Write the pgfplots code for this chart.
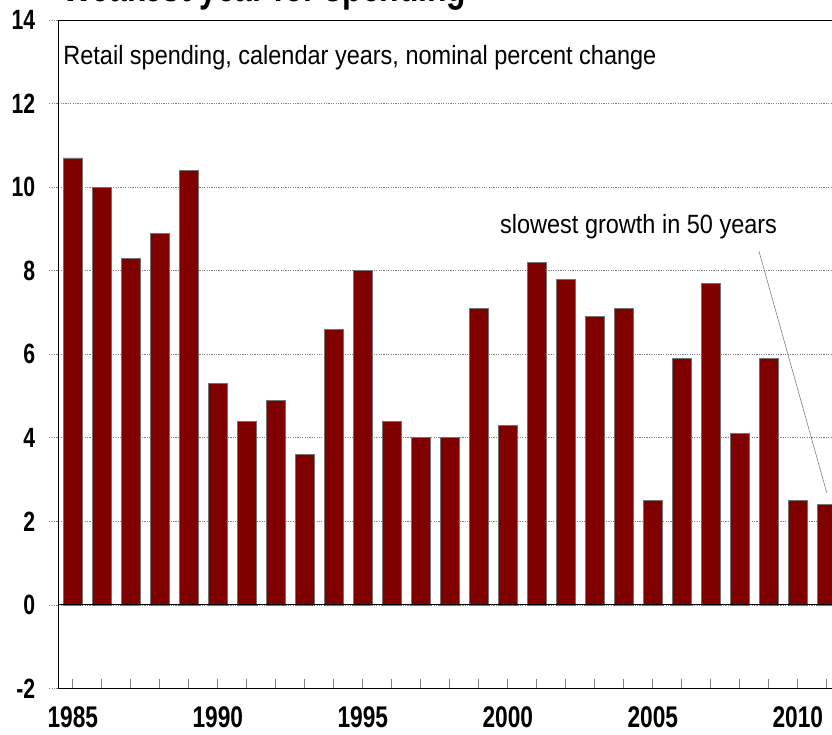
\documentclass[border=0pt]{standalone}
\usepackage{pgfplots}
\pgfplotsset{compat=1.18}
\usepackage{fontspec}
\setmainfont{Liberation Sans}
\newfontfamily\nb[FakeStretch=0.76]{Liberation Sans}
\newfontfamily\nr[FakeStretch=0.89]{Liberation Sans}
\definecolor{barred}{RGB}{128,0,0}
\begin{document}
\begin{tikzpicture}
\begin{axis}[
  scale only axis, width=783bp, height=668.3bp,
  xmin=1984.5, xmax=2011.5, ymin=-2, ymax=14,
  clip=false,
  axis line style={black, line width=0.8pt},
  ytick={-2,0,2,4,6,8,10,12,14},
  yticklabels={-2,0,2,4,6,8,10,12,14},
  xtick={1985,1990,1995,2000,2005,2010},
  xticklabels={1985,1990,1995,2000,2005,2010},
  minor xtick={1986,1987,1988,1989,1991,1992,1993,1994,1996,1997,1998,1999,2001,2002,2003,2004,2006,2007,2008,2009,2011},
  xtick pos=bottom, ytick pos=left,
  xtick align=inside, ytick align=outside,
  major tick length=9bp, minor tick length=9bp,
  xtick style={gray, line width=0.6pt},
  minor x tick style={gray, line width=0.6pt},
  ytick style={gray, dash pattern=on 1.2pt off 1.2pt, line width=0.6pt},
  ymajorgrids,
  grid style={gray, dash pattern=on 1.2pt off 1.2pt, line width=0.6pt},
  yticklabel style={inner sep=0pt, xshift=-14bp, font=\nb\bfseries\fontsize{28}{28}\selectfont},
  xticklabel style={inner sep=0pt, yshift=-18bp, font=\nb\bfseries\fontsize{30}{30}\selectfont},
]
\addplot[ybar, bar width=19bp, fill=barred, draw=black!55, line width=0.5pt] coordinates {
(1985,10.7) (1986,10.0) (1987,8.3) (1988,8.9) (1989,10.4)
(1990,5.3) (1991,4.4) (1992,4.9) (1993,3.6) (1994,6.6)
(1995,8.0) (1996,4.4) (1997,4.0) (1998,4.0) (1999,7.1)
(2000,4.3) (2001,8.2) (2002,7.8) (2003,6.9) (2004,7.1)
(2005,2.5) (2006,5.9) (2007,7.7) (2008,4.1) (2009,5.9)
(2010,2.5) (2011,2.4)};
\draw[black, line width=0.8pt] (axis cs:1984.5,0) -- (axis cs:2011.5,0);
\node[anchor=base west, inner sep=0pt, font=\nr\fontsize{26.5}{26.5}\selectfont] at (axis cs:1984.67,12.94) {Retail spending, calendar years, nominal percent change};
\node[anchor=base west, inner sep=0pt, font=\nr\fontsize{26.5}{26.5}\selectfont] at (axis cs:1999.73,8.9) {slowest growth in 50 years};
\draw[gray, line width=0.6pt] (axis cs:2008.66,8.47) -- (axis cs:2011.0,2.68);
\node[anchor=base west, inner sep=0pt, font=\nb\bfseries\fontsize{42}{42}\selectfont] at (axis cs:1984.63,14.45) {Weakest year for spending};
\coordinate (bl) at (axis cs:1982.49,-3.094);
\coordinate (tr) at (axis cs:2011.18,14.48);
\end{axis}
\pgfresetboundingbox
\path[use as bounding box] (bl) rectangle (tr);
\end{tikzpicture}
\end{document}
